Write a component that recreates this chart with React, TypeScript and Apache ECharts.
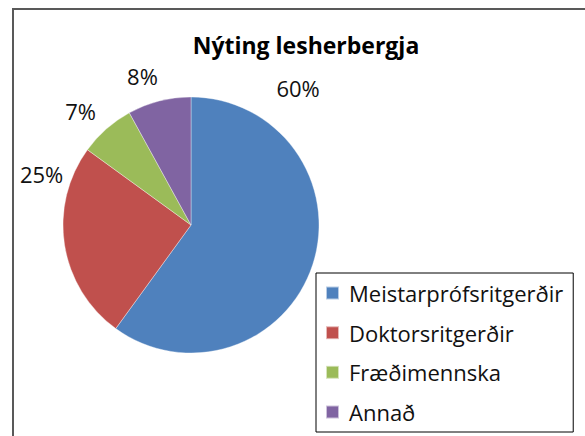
import React, { useEffect, useRef } from "react";
import * as echarts from "echarts";

const categories = ["Meistarprófsritgerðir", "Doktorsritgerðir", "Fræðimennska", "Annað"];
const values = [60, 25, 7, 8];
const colors = ["#4F81BD", "#C0504D", "#9BBB59", "#8064A2"];
const titleText = "Nýting lesherbergja";

// label placement (degrees clockwise from top, px radius) mimicking the original layout
const labelAngles = [38, 289, 316, 342];
const labelRadii = [174, 158, 159, 157];
const center = [191, 225];

export default function App() {
  const ref = useRef<HTMLDivElement>(null);
  useEffect(() => {
    const chart = echarts.init(ref.current!, null, { renderer: "svg" });
    chart.setOption({
      animation: false,
      backgroundColor: "#fff",
      title: {
        text: titleText,
        left: 306,
        top: 30,
        textAlign: "center",
        padding: 0,
        textStyle: { fontFamily: "Open Sans", fontWeight: "bold", fontSize: 23, color: "#000", lineHeight: 30 },
      },
      graphic: [
        {
          type: "rect",
          shape: { x: 13, y: 9, width: 600, height: 500 },
          style: { fill: "none", stroke: "#595959", lineWidth: 2 },
          silent: true,
          z: -1,
        },
      ],
      legend: {
        orient: "vertical",
        left: 316,
        top: 273,
        padding: [7, 10, 7, 9],
        itemGap: 13.67,
        itemWidth: 13,
        itemHeight: 13,
        icon: "rect",
        borderColor: "#000",
        borderWidth: 1,
        data: categories,
        textStyle: { fontFamily: "Open Sans", fontSize: 22, color: "#111", lineHeight: 26, padding: [0, 0, 0, 5] },
      },
      series: [
        {
          type: "pie",
          center: center,
          radius: 128,
          startAngle: 90,
          clockwise: true,
          color: colors,
          itemStyle: { borderColor: "rgba(255,255,255,0.6)", borderWidth: 0.6 },
          label: {
            show: true,
            position: "inside",
            formatter: "{d}%",
            fontFamily: "Open Sans",
            fontSize: 22,
            color: "#111",
          },
          labelLine: { show: false },
          labelLayout: (p: any) => {
            const a = (labelAngles[p.dataIndex] * Math.PI) / 180;
            const r = labelRadii[p.dataIndex];
            return {
              x: center[0] + r * Math.sin(a),
              y: center[1] - r * Math.cos(a),
              align: "center",
              verticalAlign: "middle",
            };
          },
          data: categories.map((c, i) => ({ name: c, value: values[i] })),
        },
      ],
    });
    return () => chart.dispose();
  }, []);
  return <div ref={ref} style={{ width: 585, height: 436, position: "absolute", left: 0, top: 0 }} />;
}
